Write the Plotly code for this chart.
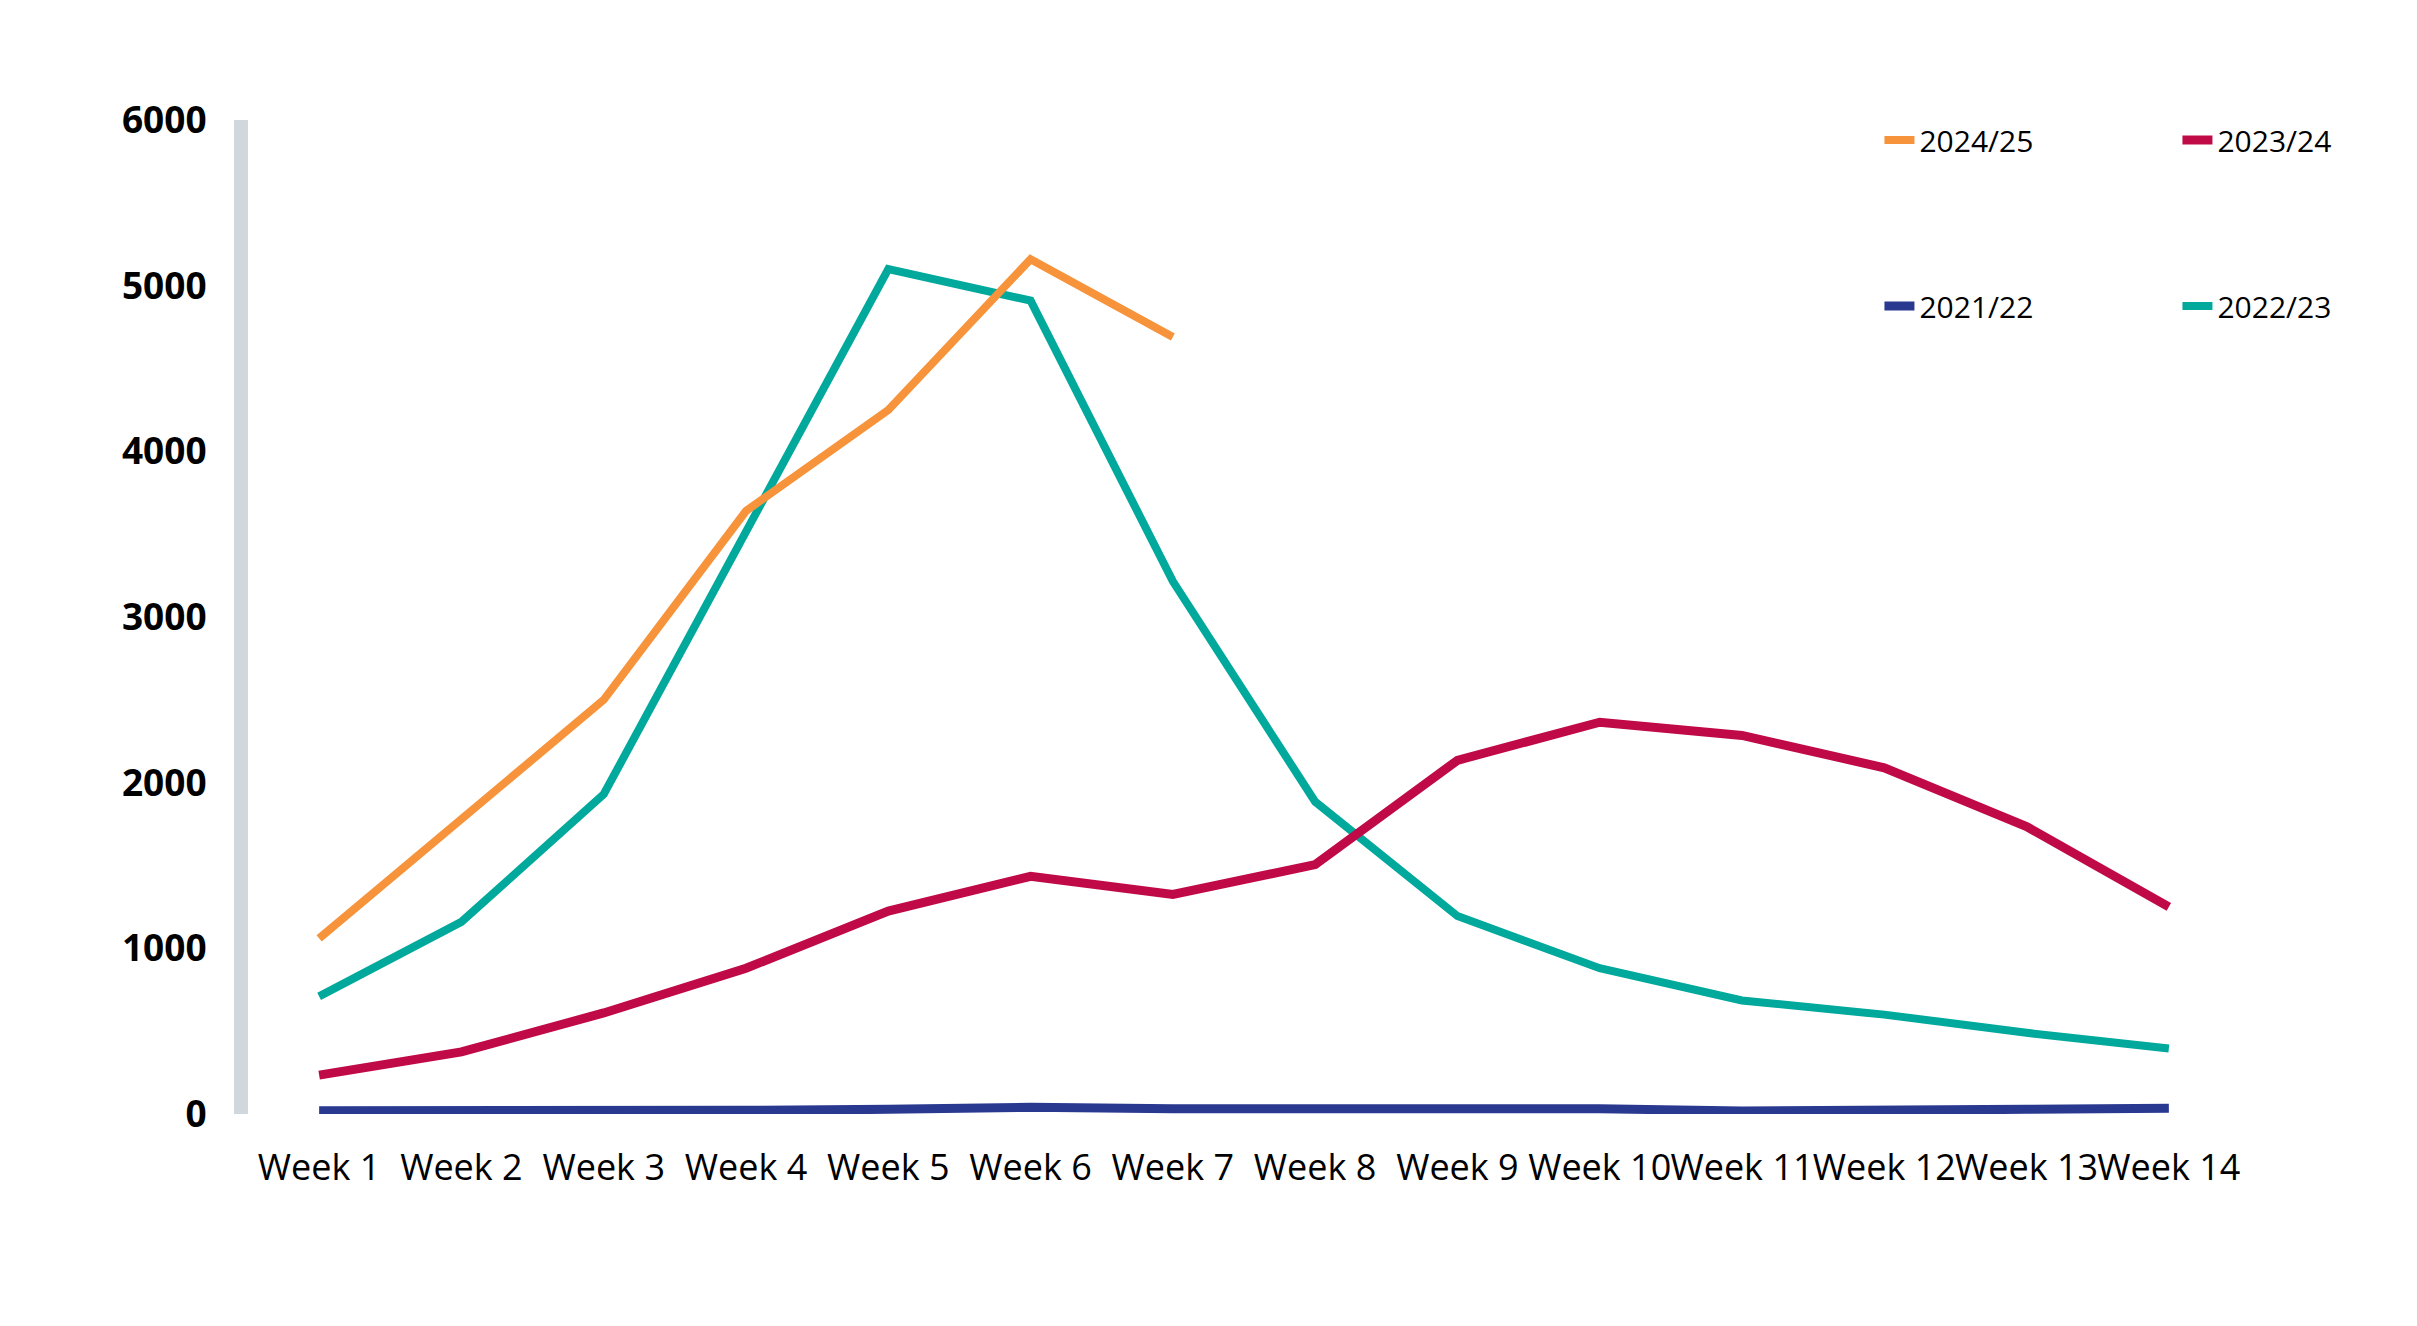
import plotly.graph_objects as go

weeks = [f"Week {i}" for i in range(1, 15)]

s_2024_25 = [1060, 1780, 2500, 3640, 4250, 5160, 4690]
s_2023_24 = [235, 375, 610, 880, 1225, 1435, 1325, 1505, 2135, 2365, 2285, 2090, 1735, 1250]
s_2021_22 = [20, 18, 22, 22, 28, 40, 32, 32, 32, 32, 18, 18, 28, 35]
s_2022_23 = [710, 1160, 1930, 3520, 5100, 4910, 3215, 1885, 1195, 880, 685, 600, 490, 395]

y_ticks = [0, 1000, 2000, 3000, 4000, 5000, 6000]

C_ORANGE = "#F7933A"
C_RED = "#C00A48"
C_NAVY = "#2A3990"
C_TEAL = "#00A99C"
FONT = "Open Sans"

fig = go.Figure()
# drawn bottom-to-top; legend order set with legendrank
fig.add_trace(go.Scatter(x=weeks, y=s_2022_23, name="2022/23", mode="lines",
                         line=dict(color=C_TEAL, width=8), legend="legend2", legendrank=2))
fig.add_trace(go.Scatter(x=weeks, y=s_2021_22, name="2021/22", mode="lines",
                         line=dict(color=C_NAVY, width=9), legend="legend2", legendrank=1))
fig.add_trace(go.Scatter(x=weeks, y=s_2023_24, name="2023/24", mode="lines",
                         line=dict(color=C_RED, width=9), legend="legend", legendrank=2))
fig.add_trace(go.Scatter(x=weeks[:len(s_2024_25)], y=s_2024_25, name="2024/25", mode="lines",
                         line=dict(color=C_ORANGE, width=8), legend="legend", legendrank=1))

legend_common = dict(orientation="h", xanchor="left", yanchor="middle",
                     font=dict(family=FONT, size=30, color="#000000"),
                     entrywidth=253, entrywidthmode="pixels",
                     bgcolor="rgba(0,0,0,0)", traceorder="normal", itemwidth=30)

fig.update_layout(
    width=2417, height=1326,
    margin=dict(l=240, r=185, t=112, b=220, autoexpand=False),
    paper_bgcolor="white", plot_bgcolor="white",
    showlegend=True,
    legend=dict(x=0.819, y=0.980, **legend_common),
    legend2=dict(x=0.819, y=0.813, **legend_common),
    hovermode=False,
    xaxis=dict(
        type="category", categoryorder="array", categoryarray=weeks,
        range=[-0.5, len(weeks) - 0.5],
        showgrid=False, zeroline=False, showline=False, ticks="",
        tickangle=0, tickfont=dict(family=FONT, size=36, color="#000000"),
        ticklabelstandoff=29,
    ),
    yaxis=dict(
        range=[0, 6000], tickvals=y_ticks, ticktext=[str(v) for v in y_ticks],
        showgrid=False, zeroline=False, showline=True, linecolor="#D0D8DE", linewidth=14,
        ticks="", tickfont=dict(family=FONT, size=37, color="#000000", weight="bold"),
        ticklabelstandoff=20,
    ),
)

fig.write_html("out.html")
